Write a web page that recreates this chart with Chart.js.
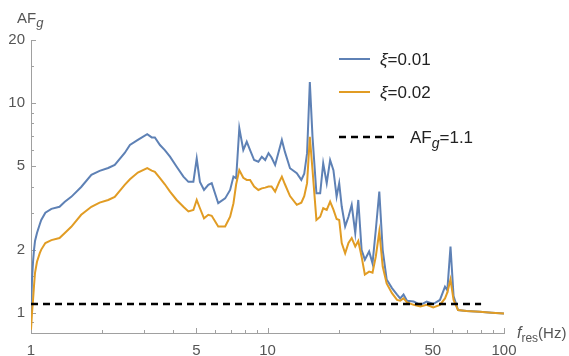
<!DOCTYPE html>
<html><head><meta charset="utf-8">
<script src="https://cdn.jsdelivr.net/npm/chart.js@4.4.0/dist/chart.umd.min.js"></script>
<style>html,body{margin:0;padding:0;background:#fff;overflow:hidden}</style>
</head><body>
<canvas id="c" width="569" height="356"></canvas>
<script>
// ---- data ----
const freq = [1.00,1.01,1.02,1.03,1.04,1.06,1.09,1.105,1.15,1.22,1.32,1.39,1.48,1.63,1.80,1.95,2.12,2.26,2.49,2.62,2.83,3.10,3.24,3.34,3.51,3.68,3.87,4.13,4.41,4.63,4.86,5.02,5.18,5.39,5.62,5.81,6.19,6.62,6.95,7.18,7.37,7.60,7.90,8.17,8.44,8.78,9.15,9.46,9.78,10.1,10.4,10.77,11.2,11.5,11.85,12.45,13.3,13.9,14.3,14.7,15.1,15.5,16.1,16.7,17.2,17.8,18.4,19.0,19.6,20.1,20.6,21.3,22.0,22.7,23.5,24.2,25.0,25.8,26.9,27.8,28.7,29.7,30.7,31.9,33.6,35.3,36.4,37.6,38.9,41.5,44.3,47.1,50.2,53.6,56.3,57.6,59.4,61.2,63.9,69.4,79,88.7,100];
const xi001 = [0.98,1.45,1.75,2.0,2.2,2.4,2.65,2.77,3.0,3.13,3.2,3.38,3.57,3.98,4.55,4.75,4.9,5.07,5.78,6.31,6.67,7.1,6.86,6.86,6.31,5.97,5.55,4.97,4.46,4.21,4.21,5.44,4.21,3.85,4.07,4.15,3.33,3.51,3.85,4.46,4.38,7.59,5.97,6.54,5.97,5.35,5.25,5.55,5.35,5.77,5.5,5.07,5.97,6.67,5.85,4.89,4.63,4.3,4.6,5.77,12.6,6.9,3.71,3.71,5.16,4.15,5.35,4.79,3.58,4.15,3.21,2.58,2.87,3.27,2.4,3.45,1.99,1.79,1.96,1.72,2.48,3.78,1.99,1.44,1.31,1.22,1.17,1.22,1.14,1.13,1.09,1.13,1.1,1.15,1.33,1.28,2.07,1.2,1.03,1.02,1.01,1.0,0.99];
const xi002 = [0.83,1.0,1.15,1.35,1.55,1.75,1.93,2.0,2.15,2.22,2.27,2.4,2.57,2.93,3.2,3.35,3.45,3.57,4.07,4.33,4.66,4.89,4.76,4.7,4.38,4.1,3.78,3.45,3.2,3.04,3.09,3.45,3.15,2.82,2.93,2.9,2.58,2.58,2.87,3.33,4.1,4.79,4.4,4.3,4.3,4.0,3.85,3.92,3.95,4.0,4.0,3.78,4.2,4.46,4.1,3.6,3.27,3.35,3.6,4.15,6.9,4.8,2.77,2.87,3.15,3.09,3.39,3.1,2.8,2.77,2.15,1.92,2.15,2.27,2.07,2.2,1.85,1.52,1.57,1.55,1.85,2.44,1.66,1.38,1.24,1.15,1.14,1.17,1.12,1.09,1.07,1.09,1.06,1.09,1.17,1.25,1.44,1.15,1.03,1.02,1.01,1.0,0.99];
const thresholdX = [1, 80];
const thresholdY = [1.1, 1.1];
const seriesLabels = ['ξ=0.01', 'ξ=0.02', 'AFg=1.1'];
const xMajorTicks = [1, 5, 10, 50, 100];
const xMinorTicks = [2,3,4,6,7,8,9,20,30,40,60,70,80,90];
const yMajorTicks = [1, 2, 5, 10, 20];
const yMinorTicks = [0.9, 1.5, 3, 4, 6, 7, 8, 9, 15];

const FONT = '"Liberation Sans", Arial, sans-serif';
const TXT = '#555555';
const AXC = '#a0a0a0';
const BLUE = '#5E81B5';
const ORANGE = '#E19C24';

const pts = (xs, ys) => xs.map((x, i) => ({x, y: ys[i]}));

function rich(ctx, x, y, parts) {
  for (const [t, size, it, dy] of parts) {
    ctx.font = (it ? 'italic ' : '') + size + 'px ' + FONT;
    ctx.fillText(t, x, y + (dy || 0));
    x += ctx.measureText(t).width;
  }
}

const decor = {
  id: 'decor',
  beforeDatasetsDraw(chart) {
    const ctx = chart.ctx, xs = chart.scales.x, ys = chart.scales.y, a = chart.chartArea;
    ctx.save();
    ctx.strokeStyle = AXC; ctx.lineWidth = 1;
    ctx.beginPath();
    const xt = (v, len) => { const p = Math.round(xs.getPixelForValue(v)) + 0.5; ctx.moveTo(p, a.bottom); ctx.lineTo(p, a.bottom - len); };
    const yt = (v, len) => { const p = Math.round(ys.getPixelForValue(v)) + 0.5; ctx.moveTo(a.left, p); ctx.lineTo(a.left + len, p); };
    xMajorTicks.forEach(v => xt(v, 5)); xMinorTicks.forEach(v => xt(v, 3));
    yMajorTicks.forEach(v => yt(v, 5)); yMinorTicks.forEach(v => yt(v, 3));
    ctx.stroke();
    ctx.restore();
  },
  afterDraw(chart) {
    const ctx = chart.ctx, ds = chart.data.datasets;
    ctx.save();
    ctx.fillStyle = TXT;
    ctx.textBaseline = 'alphabetic';
    // axis titles
    rich(ctx, 17, 23, [['AF', 15, false, 0], ['g', 13, true, 4]]);
    rich(ctx, 517, 338, [['f', 16, true, 0], ['res', 12, false, 4], ['(Hz)', 15, false, 0]]);
    // legend
    const rows = [
      {y: 59, ds: ds[0], text: [['ξ', 17, true, 0], ['=0.01', 17, false, 0]], tx: 380, len: 31},
      {y: 92, ds: ds[1], text: [['ξ', 17, true, 0], ['=0.02', 17, false, 0]], tx: 380, len: 31},
      {y: 137, ds: ds[2], text: [['AF', 17, false, 0], ['g', 14, true, 5], ['=1.1', 17, false, 0]], tx: 410, len: 58}
    ];
    for (const r of rows) {
      ctx.save();
      ctx.strokeStyle = r.ds.borderColor;
      ctx.lineWidth = r.ds.borderDash ? 2.5 : 2;
      ctx.setLineDash(r.ds.borderDash || []);
      ctx.beginPath(); ctx.moveTo(339, r.y); ctx.lineTo(339 + r.len, r.y); ctx.stroke();
      ctx.restore();
      ctx.fillStyle = '#222';
      rich(ctx, r.tx, r.y + 6, r.text);
    }
    ctx.restore();
  }
};

new Chart(document.getElementById('c'), {
  type: 'scatter',
  data: {
    datasets: [
      {label: seriesLabels[0], data: pts(freq, xi001), borderColor: BLUE, borderWidth: 2, showLine: true, pointRadius: 0, order: 2, tension: 0},
      {label: seriesLabels[1], data: pts(freq, xi002), borderColor: ORANGE, borderWidth: 2, showLine: true, pointRadius: 0, order: 1, tension: 0},
      {label: seriesLabels[2], data: pts(thresholdX, thresholdY), borderColor: '#000', borderWidth: 2.5, borderDash: [7, 5], showLine: true, pointRadius: 0, order: 0}
    ]
  },
  options: {
    responsive: false, animation: false,
    layout: {padding: {top: 40, right: 65, left: 0, bottom: 0}},
    plugins: {legend: {display: false}, tooltip: {enabled: false}},
    scales: {
      x: {
        type: 'logarithmic', min: 1, max: 100,
        afterBuildTicks: s => { s.ticks = xMajorTicks.map(v => ({value: v})); },
        afterFit: s => { s.height = 23; },
        ticks: {callback: v => String(v), color: TXT, font: {family: FONT, size: 15}, padding: 9, maxRotation: 0, autoSkip: false},
        grid: {display: false, drawTicks: false},
        border: {display: true, color: AXC, width: 1}
      },
      y: {
        type: 'logarithmic', min: 0.8, max: 20,
        afterBuildTicks: s => { s.ticks = yMajorTicks.map(v => ({value: v})); },
        afterFit: s => { s.width = 31; },
        ticks: {callback: v => String(v), color: TXT, font: {family: FONT, size: 15}, padding: 6, autoSkip: false},
        grid: {display: false, drawTicks: false},
        border: {display: true, color: AXC, width: 1}
      }
    }
  },
  plugins: [decor]
});
</script>
</body></html>
